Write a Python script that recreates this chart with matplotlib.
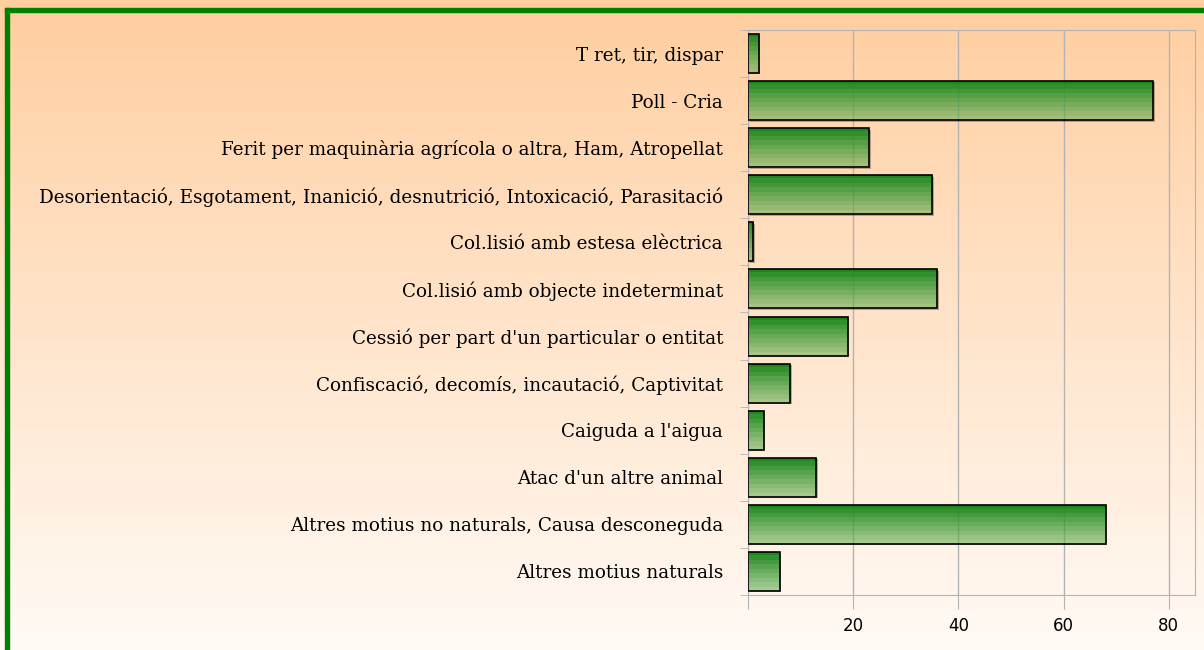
import numpy as np
import matplotlib
matplotlib.use("Agg")
import matplotlib.pyplot as plt
from matplotlib.patches import Rectangle

categories = [
    "Altres motius naturals",
    "Altres motius no naturals, Causa desconeguda",
    "Atac d'un altre animal",
    "Caiguda a l'aigua",
    "Confiscació, decomís, incautació, Captivitat",
    "Cessió per part d'un particular o entitat",
    "Col.lisió amb objecte indeterminat",
    "Col.lisió amb estesa elèctrica",
    "Desorientació, Esgotament, Inanició, desnutrició, Intoxicació, Parasitació",
    "Ferit per maquinària agrícola o altra, Ham, Atropellat",
    "Poll - Cria",
    "T ret, tir, dispar",
]
values = [6, 68, 13, 3, 8, 19, 36, 1, 35, 23, 77, 2]
xticks = [20, 40, 60, 80]

W, H = 1204, 650
fig = plt.figure(figsize=(W / 100, H / 100), dpi=100)

# background gradient
bg = fig.add_axes([0, 0, 1, 1], zorder=-10)
top = np.array([255, 206, 160]) / 255
bot = np.array([255, 250, 245]) / 255
t = np.linspace(0, 1, 256)[:, None]
grad = top[None, :] * (1 - t) + bot[None, :] * t
bg.imshow(grad[:, None, :].repeat(2, axis=1), aspect="auto", extent=[0, 1, 0, 1])
bg.set_xlim(0, 1); bg.set_ylim(0, 1)
bg.axis("off")
# green border (left and top)
bg.add_patch(Rectangle((5 / W, 0), 4 / W, 1 - 8 / H, color="#008000", transform=bg.transAxes))
bg.add_patch(Rectangle((5 / W, 1 - 12 / H), 1 - 5 / W, 4 / H, color="#008000", transform=bg.transAxes))

ax = fig.add_axes([748 / W, 1 - 595 / H, (1195 - 748) / W, (595 - 30) / H])
ax.set_facecolor("none")
y = np.arange(len(categories))
bars = ax.barh(y, values, height=0.83, facecolor="none", edgecolor="black", linewidth=1.2, zorder=3)

# stepped gradient inside each bar
nsteps = 9
c_top = np.array([30, 135, 30]) / 255
c_bot = np.array([91, 170, 75]) / 255
a_top, a_bot = 1.0, 0.55
s = np.linspace(0, 1, nsteps)[:, None]
cols = c_top * (1 - s) + c_bot * s
alph = a_top * (1 - s) + a_bot * s
img = np.concatenate([cols, alph], axis=1)[:, None, :]
dx, dy = 0.3, 0.03
for b in bars:
    x0, y0 = b.get_x(), b.get_y()
    w, h = b.get_width(), b.get_height()
    # thin shadow strips on right and bottom
    ax.add_patch(Rectangle((x0 + w, y0 - dy), dx, h, facecolor="#00000045", edgecolor="none", zorder=1))
    ax.add_patch(Rectangle((x0 + dx, y0 - dy), w - dx, dy, facecolor="#00000045", edgecolor="none", zorder=1))
    im = ax.imshow(img, aspect="auto", extent=[x0, x0 + w, y0, y0 + h], origin="upper",
                   interpolation="nearest", zorder=2)
    im.set_clip_path(b)

ax.set_xlim(0, 85)
ax.set_ylim(-0.5, len(categories) - 0.5)
ax.set_xticks([0] + xticks)
ax.set_xticklabels([""] + [str(v) for v in xticks], fontsize=12, family="DejaVu Sans")
ax.xaxis.grid(True, color="#b3b3b3", linewidth=1, zorder=0)
ax.set_axisbelow(True)
ax.tick_params(axis="x", length=10, color="#b3b3b3", pad=6)
ax.set_yticks(y)
ax.set_yticklabels(categories, fontsize=13.2, family="DejaVu Serif")
ax.tick_params(axis="y", length=0, pad=18)
ax.set_yticks(np.arange(-0.5, len(categories) - 0.4, 1), minor=True)
ax.tick_params(axis="y", which="minor", length=6, color="#b3b3b3")
for sp in ax.spines.values():
    sp.set_color("#b3b3b3")

fig.savefig("out.png", dpi=100)
